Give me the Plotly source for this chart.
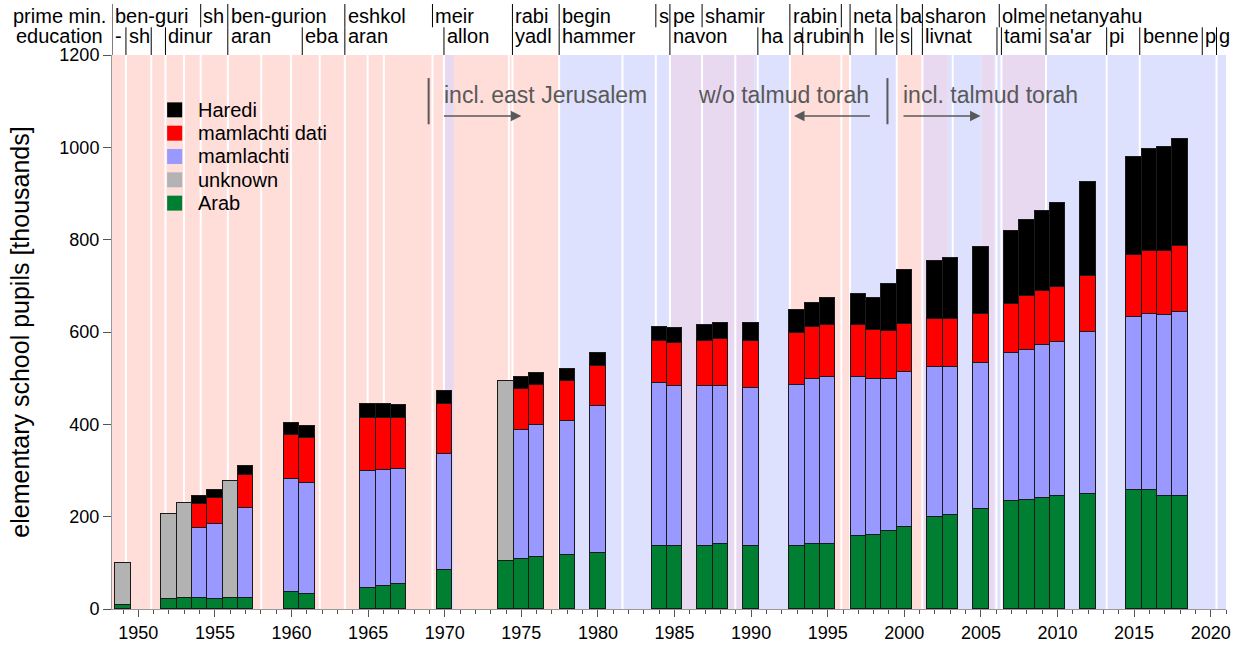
import plotly.graph_objects as go

# school years (bar positions) and pupils [thousands] per stream
years = [1949, 1952, 1953, 1954, 1955, 1956, 1957, 1960, 1961, 1965, 1966, 1967, 1970,
         1974, 1975, 1976, 1978, 1980, 1984, 1985, 1987, 1988, 1990, 1993, 1994, 1995,
         1997, 1998, 1999, 2000, 2002, 2003, 2005, 2007, 2008, 2009, 2010, 2012, 2015,
         2016, 2017, 2018]
arab = [8, 22, 24, 24, 22, 23, 24, 37, 32, 45, 50, 54, 84, 104, 108, 113, 117, 121, 136,
        136, 136, 141, 136, 136, 141, 141, 158, 160, 169, 178, 199, 204, 217, 234, 236,
        240, 245, 249, 258, 258, 245, 245]
unknown = [92, 184, 206, None, None, 255, None, None, None, None, None, None, None, 390,
           None, None, None, None, None, None, None, None, None, None, None, None, None,
           None, None, None, None, None, None, None, None, None, None, None, None, None,
           None, None]
mamlachti = [None, None, None, 151, 162, None, 195, 245, 241, 254, 251, 249, 252, None,
             280, 286, 290, 319, 353, 347, 347, 342, 343, 349, 357, 361, 344, 338, 329,
             335, 325, 320, 316, 320, 325, 332, 333, 351, 374, 381, 392, 398]
mamlachti_dati = [None, None, None, 52, 56, None, 71, 95, 97, 115, 113, 111, 108, None,
                  88, 86, 87, 86, 91, 93, 97, 102, 101, 113, 113, 113, 113, 106, 104,
                  104, 104, 104, 106, 107, 117, 117, 119, 121, 135, 136, 138, 143]
haredi = [None, None, None, 18, 18, None, 20, 26, 26, 30, 30, 28, 28, None, 26, 26, 26,
          28, 31, 33, 35, 34, 39, 50, 52, 59, 67, 70, 102, 117, 126, 132, 145, 158, 165,
          173, 182, 204, 212, 221, 226, 232]

# government coalition periods: start, end, kind (left / right / unity)
band_start = [1948.28, 1969.95, 1970.6, 1977.47, 1984.7, 1990.2, 1992.53, 1996.46, 1999.51,
              2001.18, 2002.84, 2005.03, 2005.9, 2006.34, 2009.25]
band_end = [1969.95, 1970.6, 1977.47, 1984.7, 1990.2, 1992.53, 1996.46, 1999.51, 2001.18,
            2002.84, 2005.03, 2005.9, 2006.34, 2009.25, 2021.0]
band_kind = ['left', 'unity', 'left', 'right', 'unity', 'right', 'left', 'right', 'left',
             'unity', 'right', 'unity', 'right', 'unity', 'right']
# new government formed
gov_starts = [1949.19, 1950.84, 1951.77, 1952.98, 1954.07, 1955.84, 1958.02, 1959.96,
              1961.84, 1963.48, 1964.97, 1966.03, 1969.2, 1969.95, 1974.19, 1974.42,
              1977.47, 1981.6, 1983.78, 1984.7, 1986.8, 1988.97, 1990.44, 1992.53,
              1995.89, 1996.46, 1999.51, 2001.18, 2003.16, 2006.01, 2006.34, 2009.25,
              2013.21, 2015.37, 2020.38]

pm_start = [1948.28, 1954.07, 1955.84, 1963.48, 1969.2, 1974.42, 1977.47, 1983.78, 1984.7,
            1986.8, 1992.53, 1995.89, 1996.46, 1999.51, 2001.18, 2006.2, 2009.25]
pm_name = ['ben-guri', 'sh', 'ben-gurion', 'eshkol', 'meir', 'rabi', 'begin', 's', 'pe',
           'shamir', 'rabin', '', 'neta', 'ba', 'sharon', 'olme', 'netanyahu']
edu_start = [1948.28, 1949.19, 1950.84, 1951.77, 1955.84, 1960.7, 1963.48, 1969.95,
             1974.42, 1977.47, 1984.7, 1990.44, 1992.53, 1993.37, 1996.46, 1998.15,
             1999.51, 2000.48, 2001.18, 2006.05, 2006.34, 2009.25, 2013.21, 2015.37,
             2019.45, 2020.38]
edu_name = ['-', 'sh', '', 'dinur', 'aran', 'eba', 'aran', 'allon', 'yadl', 'hammer',
            'navon', 'ha', 'a', 'rubin', 'h', 'le', 's', '', 'livnat', '', 'tami',
            "sa'ar", 'pi', 'benne', 'p', 'g']

kind_color = {'left': 'rgb(255,222,218)', 'right': 'rgb(222,225,253)',
              'unity': 'rgb(232,216,240)'}

fig = go.Figure()
series = [('Arab', arab, '#007f33'), ('unknown', unknown, '#b3b3b3'),
          ('mamlachti', mamlachti, '#9999ff'), ('mamlachti dati', mamlachti_dati, '#ff0000'),
          ('Haredi', haredi, '#000000')]
for name, vals, col in series:
    fig.add_trace(go.Bar(x=years, y=vals, name=name, width=1.0, showlegend=False,
                         marker=dict(color=col, line=dict(color='#1a1a1a', width=1))))

shapes = []
for s, e, k in zip(band_start, band_end, band_kind):
    shapes.append(dict(type='rect', xref='x', yref='y', x0=s, x1=e, y0=0, y1=1200,
                       fillcolor=kind_color[k], line=dict(width=0), layer='below'))
for g in gov_starts:
    shapes.append(dict(type='line', xref='x', yref='y', x0=g, x1=g, y0=0, y1=1200,
                       line=dict(color='white', width=2), layer='below'))

annotations = []
hdr_font = dict(size=20, color='black')
row1, row2 = 1.070, 1.034
for s, n in zip(pm_start, pm_name):
    shapes.append(dict(type='line', xref='x', yref='paper', x0=s, x1=s, y0=1.05, y1=1.092,
                       line=dict(color='black', width=1)))
    annotations.append(dict(x=s + 0.05, y=row1, xref='x', yref='paper', text=n,
                            showarrow=False, xanchor='left', yanchor='middle',
                            font=hdr_font))
for s, n in zip(edu_start, edu_name):
    shapes.append(dict(type='line', xref='x', yref='paper', x0=s, x1=s, y0=1.0, y1=1.05,
                       line=dict(color='black', width=1)))
    annotations.append(dict(x=s + 0.05, y=row2, xref='x', yref='paper', text=n,
                            showarrow=False, xanchor='left', yanchor='middle',
                            font=hdr_font))
annotations.append(dict(x=-0.004, y=row1, xref='paper', yref='paper', text='prime min.',
                        showarrow=False, xanchor='right', yanchor='middle', font=hdr_font))
annotations.append(dict(x=-0.006, y=row2, xref='paper', yref='paper', text='education',
                        showarrow=False, xanchor='right', yanchor='middle', font=hdr_font))

# legend (top to bottom: Haredi ... Arab)
for i, (name, vals, col) in enumerate(reversed(series)):
    yc = 0.901 - i * 0.0421
    shapes.append(dict(type='rect', xref='paper', yref='paper', x0=0.0495, x1=0.063,
                       y0=yc - 0.0135, y1=yc + 0.0135, fillcolor=col, line=dict(width=0)))
    annotations.append(dict(x=0.0755, y=yc, xref='paper', yref='paper', text=name,
                            showarrow=False, xanchor='left', yanchor='middle',
                            font=dict(size=20, color='black')))

# notes on data coverage
grey = '#595959'
for xb in [1968.95, 1998.9]:
    shapes.append(dict(type='line', xref='x', yref='y', x0=xb, x1=xb, y0=1050, y1=1150,
                       line=dict(color=grey, width=2)))
notes = [('incl. east Jerusalem', 1969.8, 'left', 1969.85, 1975.0),
         ('w/o talmud torah', 1997.85, 'right', 1997.85, 1992.8),
         ('incl. talmud torah', 1999.8, 'left', 1999.85, 2004.98)]
for txt, xt, anc, xa0, xa1 in notes:
    annotations.append(dict(x=xt, y=1113, xref='x', yref='y', text=txt, showarrow=False,
                            xanchor=anc, yanchor='middle', font=dict(size=23, color=grey)))
    annotations.append(dict(x=xa1, y=1068, ax=xa0, ay=1068, xref='x', yref='y',
                            axref='x', ayref='y', text='', showarrow=True, arrowhead=2,
                            arrowsize=1.4, arrowwidth=1.5, arrowcolor=grey))

fig.update_layout(
    width=1238, height=646, autosize=False,
    margin=dict(l=112, r=12, t=55, b=37),
    barmode='stack', bargap=0,
    plot_bgcolor='white', paper_bgcolor='white',
    font=dict(family='Liberation Sans, Arial, sans-serif', size=17, color='black'),
    shapes=shapes, annotations=annotations,
    showlegend=False,
)
fig.update_xaxes(range=[1948.28, 2021.0], tickmode='linear', tick0=1950, dtick=5,
                 ticks='outside', ticklen=7, tickcolor='#555', showgrid=False,
                 showline=True, linecolor='#999', zeroline=False, automargin=False,
                 minor=dict(dtick=1, ticks='outside', ticklen=4, tickcolor='#555'),
                 tickfont=dict(size=18))
fig.update_yaxes(range=[0, 1200], tickmode='linear', tick0=0, dtick=200,
                 ticks='outside', ticklen=8, tickcolor='#555', showgrid=False,
                 showline=True, linecolor='#999', zeroline=False, automargin=False,
                 tickfont=dict(size=18),
                 title=dict(text='elementary school pupils [thousands]',
                            font=dict(size=25), standoff=22))

fig.write_html("out.html", config={'displayModeBar': False},
               post_script="document.body.style.margin='0';")
